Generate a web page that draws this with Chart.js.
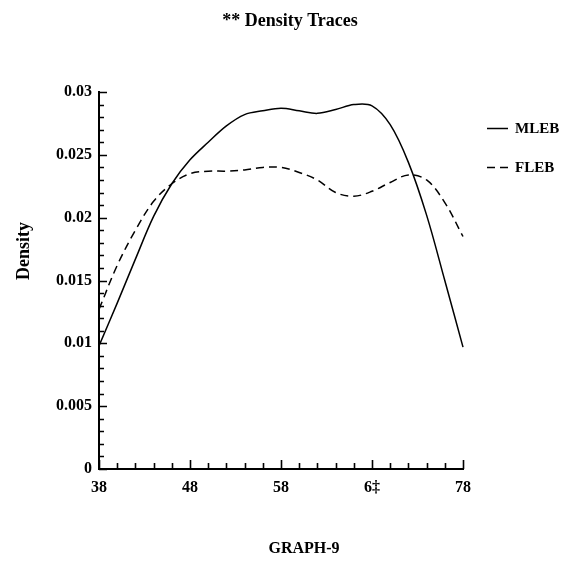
<!DOCTYPE html>
<html>
<head>
<meta charset="utf-8">
<title>Density Traces</title>
<script src="https://cdn.jsdelivr.net/npm/chart.js@4/dist/chart.umd.min.js"></script>
<style>
  html, body { margin: 0; padding: 0; background: #fff; }
  #wrap { width: 568px; height: 563px; }
</style>
</head>
<body>
<div id="wrap"><canvas id="densityChart" width="568" height="563"></canvas></div>
<script>
// Idades (eixo x) e densidades estimadas de cada série
const ages = [38, 40, 42, 44, 46, 48, 50, 52, 54, 56, 58, 60, 62, 64, 66, 68, 70, 72, 74, 76, 78];
const mleb = [0.0098, 0.0132, 0.0167, 0.0201, 0.0227, 0.0246, 0.0260, 0.0273, 0.0282, 0.0285, 0.0287,
              0.0285, 0.0283, 0.0286, 0.0290, 0.0289, 0.0274, 0.0244, 0.0202, 0.0150, 0.0097];
const fleb = [0.0127, 0.0162, 0.0190, 0.0213, 0.0227, 0.0235, 0.0237, 0.0237, 0.0238, 0.0240, 0.0240,
              0.0236, 0.0230, 0.0220, 0.0217, 0.0221, 0.0228, 0.0234, 0.0230, 0.0212, 0.0185];

const seriesNames = ['MLEB', 'FLEB'];

// Marcas principais dos eixos e seus rótulos
const xMajorTicks = [38, 48, 58, 68, 78];
const xTickLabels = ['38', '48', '58', '6\u2021', '78'];
const yMajorTicks = [0, 0.005, 0.01, 0.015, 0.02, 0.025, 0.03];
const yTickLabels = ['0', '0.005', '0.01', '0.015', '0.02', '0.025', '0.03'];

const FONT = "'Liberation Serif', 'DejaVu Serif', serif";
Chart.defaults.font.family = FONT;
Chart.defaults.color = '#000';

function majorLabel(value, majors, labels) {
    for (let i = 0; i < majors.length; i++) {
        if (Math.abs(value - majors[i]) < 1e-7) return labels[i];
    }
    return '';
}

// Marcas de escala voltadas para dentro (maiores nos valores rotulados)
const inwardTicks = {
    id: 'inwardTicks',
    afterDraw(chart) {
        const ctx = chart.ctx;
        const area = chart.chartArea;
        const xs = chart.scales.x;
        const ys = chart.scales.y;
        ctx.save();
        ctx.strokeStyle = '#000';
        ctx.lineWidth = 1.6;
        ctx.beginPath();
        xs.ticks.forEach(t => {
            const px = Math.round(xs.getPixelForValue(t.value)) + 0.5;
            const len = majorLabel(t.value, xMajorTicks, xTickLabels) ? 9 : 6;
            ctx.moveTo(px, area.bottom);
            ctx.lineTo(px, area.bottom - len);
        });
        ys.ticks.forEach(t => {
            const py = Math.round(ys.getPixelForValue(t.value)) + 0.5;
            const len = majorLabel(t.value, yMajorTicks, yTickLabels) ? 8 : 5;
            ctx.moveTo(area.left, py);
            ctx.lineTo(area.left + len, py);
        });
        ctx.stroke();
        ctx.restore();
    }
};

// Títulos e legenda desenhados à mão
const textos = {
    id: 'textos',
    afterDraw(chart) {
        const ctx = chart.ctx;
        ctx.save();
        ctx.fillStyle = '#000';
        ctx.textAlign = 'center';
        ctx.textBaseline = 'middle';
        ctx.font = 'bold 18px ' + FONT;
        ctx.fillText('** Density Traces', 290, 21);
        ctx.font = 'bold 16px ' + FONT;
        ctx.fillText('GRAPH-9', 304, 549);

        ctx.save();
        ctx.font = 'bold 18px ' + FONT;
        ctx.translate(24, 251);
        ctx.rotate(-Math.PI / 2);
        ctx.fillText('Density', 0, 0);
        ctx.restore();

        // legenda
        ctx.font = 'bold 15px ' + FONT;
        const rows = [128, 167];
        chart.data.datasets.forEach((ds, i) => {
            const y = rows[i] + 0.5;
            ctx.strokeStyle = ds.borderColor;
            ctx.lineWidth = ds.borderWidth;
            ctx.setLineDash(ds.borderDash || []);
            ctx.beginPath();
            ctx.moveTo(487, y);
            ctx.lineTo(508, y);
            ctx.stroke();
            ctx.setLineDash([]);
            ctx.textAlign = 'left';
            ctx.fillText(ds.label, 515, rows[i] + 1);
        });
        ctx.restore();
    }
};

const ctx = document.getElementById('densityChart').getContext('2d');
new Chart(ctx, {
    type: 'line',
    data: {
        datasets: [{
            label: seriesNames[0],
            data: ages.map((a, i) => ({ x: a, y: mleb[i] })),
            borderColor: '#000',
            borderWidth: 1.5,
            pointRadius: 0,
            tension: 0.35,
            fill: false
        }, {
            label: seriesNames[1],
            data: ages.map((a, i) => ({ x: a, y: fleb[i] })),
            borderColor: '#000',
            borderWidth: 1.5,
            borderDash: [8, 5],
            pointRadius: 0,
            tension: 0.35,
            fill: false
        }]
    },
    options: {
        responsive: false,
        animation: false,
        events: [],
        clip: false,
        layout: { padding: { top: 92, right: 105, left: 0, bottom: 0 } },
        plugins: {
            legend: { display: false },
            title: { display: false },
            tooltip: { enabled: false }
        },
        scales: {
            x: {
                type: 'linear',
                min: 38,
                max: 78,
                grid: { display: true, drawOnChartArea: false, drawTicks: false },
                border: { display: true, color: '#000', width: 2 },
                ticks: {
                    stepSize: 2,
                    autoSkip: false,
                    maxRotation: 0,
                    padding: 9,
                    font: { size: 16, weight: 'bold' },
                    callback: v => majorLabel(v, xMajorTicks, xTickLabels)
                },
                afterFit: s => { s.height = 94; }
            },
            y: {
                min: 0,
                max: 0.03,
                grid: { display: true, drawOnChartArea: false, drawTicks: false },
                border: { display: true, color: '#000', width: 2 },
                ticks: {
                    stepSize: 0.001,
                    autoSkip: false,
                    padding: 7,
                    font: { size: 16, weight: 'bold' },
                    callback: v => majorLabel(v, yMajorTicks, yTickLabels)
                },
                afterFit: s => { s.width = 99; }
            }
        }
    },
    plugins: [inwardTicks, textos]
});
</script>
</body>
</html>
